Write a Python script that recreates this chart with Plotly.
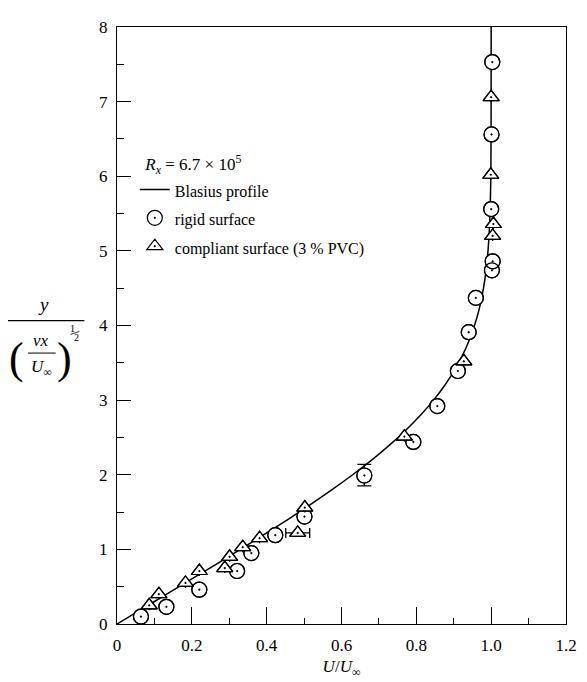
import plotly.graph_objects as go

# Blasius profile (tabulated): eta = y/(nu x/U)^0.5, U/Uinf = f'
blasius_eta = [0.0, 0.2, 0.4, 0.6, 0.8, 1.0, 1.2, 1.4, 1.6, 1.8, 2.0, 2.2, 2.4, 2.6, 2.8,
               3.0, 3.2, 3.4, 3.6, 3.8, 4.0, 4.2, 4.4, 4.6, 4.8, 5.0, 5.2, 5.4, 5.6, 5.8,
               6.0, 6.4, 6.8, 7.2, 7.6, 8.0]
blasius_u = [0.0, 0.06641, 0.13277, 0.19894, 0.26471, 0.32979, 0.39378, 0.45627, 0.51676,
             0.57477, 0.62977, 0.68132, 0.72899, 0.77246, 0.81152, 0.84605, 0.87609,
             0.90177, 0.92333, 0.94112, 0.95552, 0.96696, 0.97587, 0.98269, 0.98779,
             0.99155, 0.99425, 0.99616, 0.99748, 0.99838, 0.99898, 0.99961, 0.99987,
             0.99996, 0.99999, 1.0]

# rigid surface (circles)
rigid_u = [0.064, 0.132, 0.220, 0.321, 0.359, 0.423, 0.501, 0.661, 0.792, 0.856,
           0.911, 0.940, 0.959, 1.002, 1.004, 1.000, 1.001, 1.003]
rigid_y = [0.10, 0.23, 0.46, 0.71, 0.95, 1.19, 1.44, 1.99, 2.44, 2.92,
           3.39, 3.91, 4.37, 4.74, 4.86, 5.56, 6.56, 7.53]
rigid_err_plus = [0, 0, 0, 0, 0, 0, 0, 0.15, 0, 0, 0, 0, 0, 0, 0, 0, 0, 0]
rigid_err_minus = [0, 0, 0, 0, 0, 0, 0, 0.14, 0, 0, 0, 0, 0, 0, 0, 0, 0, 0]

# compliant surface (triangles)
compl_u = [0.086, 0.112, 0.183, 0.220, 0.288, 0.301, 0.336, 0.381, 0.483, 0.502,
           0.768, 0.927, 1.004, 1.006, 0.999, 1.000]
compl_y = [0.25, 0.40, 0.55, 0.71, 0.75, 0.90, 1.03, 1.15, 1.22, 1.56,
           2.51, 3.52, 5.20, 5.36, 6.02, 7.06]
compl_xerr = [0, 0, 0, 0, 0, 0, 0, 0, 0.032, 0, 0, 0, 0, 0, 0, 0]

x_ticks = [0, 0.2, 0.4, 0.6, 0.8, 1.0, 1.2]
x_ticklabels = ["0", "0.2", "0.4", "0.6", "0.8", "1.0", "1.2"]
y_ticks = [0, 1, 2, 3, 4, 5, 6, 7, 8]

FONT = "Liberation Serif"
# browser window and default 8px body margin of the page
WIN_W, WIN_H, OFF = 587, 682, 8
# plot area in window pixels
PL, PR, PT, PB = 117, 571, 18, 624
W, H = WIN_W - OFF, WIN_H - OFF
ML, MT = PL - OFF, PT - OFF
MR, MB = WIN_W - PR, WIN_H - PB


def px(x):
    return (x - PL) / (PR - PL)


def py(y):
    return (PB - y) / (PB - PT)


fig = go.Figure()

fig.add_trace(go.Scatter(x=blasius_u, y=blasius_eta, mode="lines",
                         name='<span style="font-size:16px">Blasius profile</span>',
                         line=dict(color="black", width=1.5, shape="spline")))

# rigid: white-filled circles below, open dotted circles on top
fig.add_trace(go.Scatter(x=rigid_u, y=rigid_y, mode="markers", showlegend=False,
                         marker=dict(symbol="circle", size=15, color="white",
                                     line=dict(color="black", width=1.2)),
                         error_y=dict(type="data", symmetric=False, array=rigid_err_plus,
                                      arrayminus=rigid_err_minus, color="black",
                                      thickness=1.3, width=7)))
fig.add_trace(go.Scatter(x=rigid_u, y=rigid_y, mode="markers",
                         name='<span style="font-size:16px">rigid surface</span>',
                         marker=dict(symbol="circle-open-dot", size=15, color="black",
                                     line=dict(color="black", width=1.2))))

fig.add_trace(go.Scatter(x=compl_u, y=compl_y, mode="markers", showlegend=False,
                         marker=dict(symbol="triangle-up", size=14, color="white",
                                     line=dict(color="black", width=1.2)),
                         error_x=dict(type="data", array=compl_xerr, color="black",
                                      thickness=1.3, width=5)))
fig.add_trace(go.Scatter(x=compl_u, y=compl_y, mode="markers",
                         name='<span style="font-size:16px">compliant surface (3 % PVC)</span>',
                         marker=dict(symbol="triangle-up-open-dot", size=14, color="black",
                                     line=dict(color="black", width=1.2))))

axis_common = dict(showgrid=False, zeroline=False, showline=True, linecolor="black",
                   linewidth=1.3, mirror=True, ticks="inside", tickcolor="black",
                   tickwidth=1.2, ticklabeloverflow="allow",
                   tickfont=dict(family=FONT, size=17, color="black"))

fig.update_xaxes(range=[0, 1.2], tickvals=x_ticks, ticktext=x_ticklabels, ticklen=17,
                 ticklabelstandoff=5,
                 minor=dict(dtick=0.1, ticks="inside", ticklen=6, tickcolor="black",
                            tickwidth=1.2),
                 title=dict(text="<i>U</i>/<i>U</i><sub>∞</sub>",
                            font=dict(family=FONT, size=17, color="black"), standoff=6),
                 **axis_common)
fig.update_yaxes(range=[0, 8], tickvals=y_ticks, ticklen=14, ticklabelstandoff=5,
                 minor=dict(dtick=0.5, ticks="inside", ticklen=7, tickcolor="black",
                            tickwidth=1.2),
                 **axis_common)

# y-axis label: y / (nu x / U_inf)^(1/2)
tf = dict(family=FONT, color="black")
ann = [
    dict(text="<i>y</i>", x=px(43), y=py(300), font=dict(size=19, **tf)),
    dict(text="(", x=px(15), y=py(355), font=dict(size=44, **tf)),
    dict(text=")", x=px(64), y=py(355), font=dict(size=44, **tf)),
    dict(text="<i>νx</i>", x=px(40), y=py(336), font=dict(size=17, **tf)),
    dict(text="<i>U</i><sub>∞</sub>", x=px(41), y=py(364), font=dict(size=17, **tf)),
    dict(text="1", x=px(72), y=py(324), font=dict(size=10, **tf)),
    dict(text="2", x=px(76), y=py(333), font=dict(size=10, **tf)),
]
for a in ann:
    a.update(xref="paper", yref="paper", showarrow=False, xanchor="center", yanchor="middle")

shapes = [
    dict(type="line", xref="paper", yref="paper", x0=px(5), x1=px(84), y0=py(316), y1=py(316),
         line=dict(color="black", width=1.2)),
    dict(type="line", xref="paper", yref="paper", x0=px(27), x1=px(55), y0=py(349), y1=py(349),
         line=dict(color="black", width=1)),
    dict(type="line", xref="paper", yref="paper", x0=px(70), x1=px(79), y0=py(330), y1=py(327),
         line=dict(color="black", width=0.8)),
]

fig.update_layout(
    width=W, height=H,
    margin=dict(l=ML, r=MR, t=MT, b=MB, pad=0),
    paper_bgcolor="white", plot_bgcolor="white",
    font=dict(family=FONT, size=17, color="black"),
    annotations=ann, shapes=shapes,
    legend=dict(x=px(135), y=py(141), xanchor="left", yanchor="top",
                bgcolor="rgba(0,0,0,0)", itemwidth=30, tracegroupgap=0,
                font=dict(family=FONT, size=19.5, color="black"),
                title=dict(text="&nbsp;&nbsp;<i>R</i><sub><i>x</i></sub> = 6.7 × 10<sup>5</sup>",
                           font=dict(family=FONT, size=17, color="black"))),
)

fig.write_html("out.html")
